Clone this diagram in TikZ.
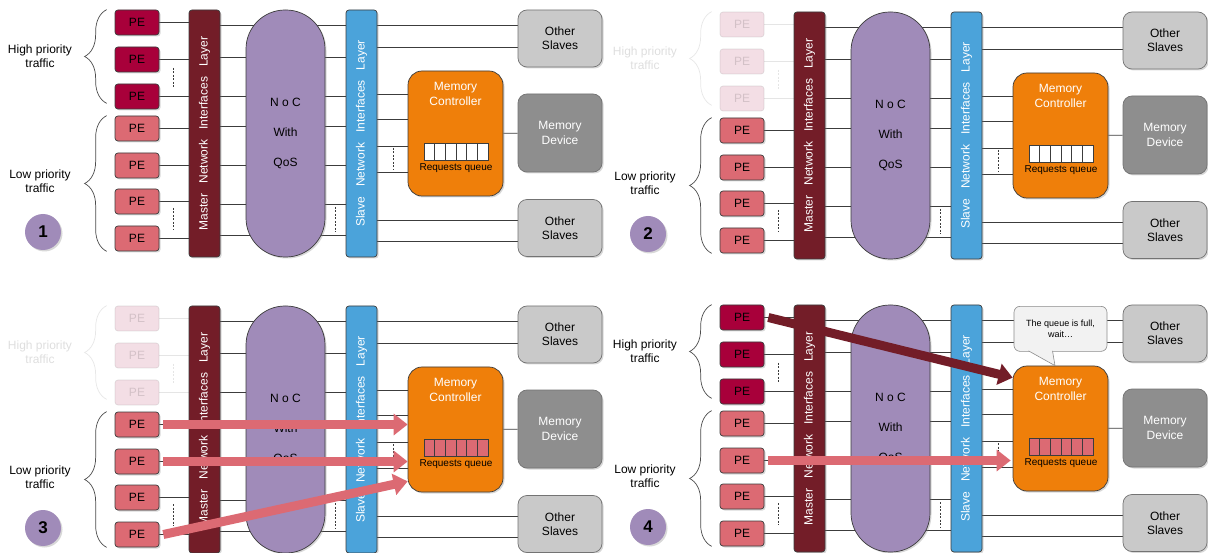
\documentclass[tikz,border=0pt]{standalone}
\usepackage{fontspec}
\setmainfont{Liberation Sans}
\usepackage{xcolor}
\usepackage{tikz}
\usetikzlibrary{arrows.meta,calc,decorations.pathreplacing,positioning,shadows,backgrounds}
\definecolor{muted}{HTML}{3C3C3C}
\definecolor{hipe}{HTML}{A8003A}
\definecolor{lope}{HTML}{DC6A73}
\definecolor{mnifill}{HTML}{731D28}
\definecolor{nocfill}{HTML}{A08BB9}
\definecolor{snifill}{HTML}{4BA3DA}
\definecolor{mcfill}{HTML}{EF7F0A}
\definecolor{osfill}{HTML}{C9C9C9}
\definecolor{mdfill}{HTML}{8E8E8E}
\definecolor{msgfill}{HTML}{F2F2F2}

% one snapshot of the system: name, x, y, extra options, step number
\newcommand\drawpanel[5]{%
\begin{scope}[shift={(#2,#3)},#4]
  % traffic groups
  \node[lbl,hifade] (#1hilbl) at (40,56) {High priority\\traffic};
  \node[lbl] (#1lolbl) at (40,181) {Low priority\\traffic};
  \node[numdot] (#1num) at (43,232) {#5};
  % processing elements
  \foreach \i/\y in {1/22.5,2/59.5,3/96.5}
    \node[pe,hi,fill=hipe] (#1pe\i) at (137,\y) {PE};
  \foreach \i/\y in {4/128.5,5/165.5,6/201.5,7/238.5}
    \node[pe,boxshadow,fill=lope] (#1pe\i) at (137,\y) {PE};
  \draw[brace,hifade] ([xshift=-8pt,yshift=6pt]#1pe3.south west) -- ([xshift=-8pt]#1pe1.north west);
  \draw[brace] ([xshift=-8pt]#1pe7.south west) -- ([xshift=-8pt]#1pe4.north west);
  \draw[dots,hifade] (173,68) -- (173,88);
  \draw[dots] (173,208) -- (173,230);
  % network interfaces and NoC
  \node[bar,fill=mnifill] (#1mni) at (204.5,133.5) {};
  \node[bartxt] at (#1mni) {Master\hspace{10pt}Network\hspace{10pt}Interfaces\hspace{10pt}Layer};
  \node[noc] (#1noc) at (285.5,133.5) {N o C\\[15.6pt]With\\[15.6pt]QoS};
  \node[bar,fill=snifill] (#1sni) at (361.5,133.5) {};
  \node[bartxt] at (#1sni) {Slave\hspace{10pt}Network\hspace{10pt}Interfaces\hspace{10pt}Layer};
  \draw[dots] (335,207) -- (335,232);
  % slaves
  \node[slv] (#1os1) at (560,38.5) {Other\\Slaves};
  \node[slv,fill=mdfill,text=white,minimum height=78pt] (#1md) at (560,133) {Memory\\Device};
  \node[slv] (#1os2) at (560,228) {Other\\Slaves};
  \node[mcbox] (#1mc) at (455.5,133.5) {};
  \node[text=white,below=10.5pt of #1mc.north] (#1mclbl) {Memory\\Controller};
  \foreach \k in {0,...,5}
    \node[cell] (#1q\k) at ({429.33+10.67*\k},151.5) {};
  \node[font=\fontsize{10}{12}\selectfont] (#1qlbl) at (456,168) {Requests queue};
  \draw[dots] (393,148) -- (393,170);
  % wires
  \begin{pgfonlayer}{background}
    \foreach \i in {1,2,3}
      \draw[wire,hifade] (#1pe\i.east) -- (#1pe\i.east -| #1mni.west);
    \foreach \i in {4,...,7}
      \draw[wire] (#1pe\i.east) -- (#1pe\i.east -| #1mni.west);
    \foreach \y in {25,57,96,126,165,204,235}
      \draw[wire] (#1mni.east |- 0,\y) -- (#1sni.west |- 0,\y);
    \foreach \y in {25,47}
      \draw[wire] (#1sni.east |- 0,\y) -- (#1os1.west |- 0,\y);
    \foreach \y in {94,119,146,172}
      \draw[wire] (#1sni.east |- 0,\y) -- (#1mc.west |- 0,\y);
    \foreach \y in {220,241}
      \draw[wire] (#1sni.east |- 0,\y) -- (#1os2.west |- 0,\y);
    \draw[wire] (#1mc) -- (#1md);
  \end{pgfonlayer}
\end{scope}}

\begin{document}
\begin{tikzpicture}[x=1pt,y=-1pt,
  every node/.style={font=\fontsize{12}{14.4}\selectfont,align=center,inner sep=1pt},
  boxshadow/.style={drop shadow={opacity=0.3,shadow xshift=1.5pt,shadow yshift=-1.5pt}},
  hi/.style={boxshadow}, hifade/.style={},
  faded/.style={hi/.style={opacity=0.13},hifade/.style={opacity=0.13}},
  cellbox/.style={draw=muted,line width=0.6pt,minimum width=10.67pt,minimum height=17pt,inner sep=0pt},
  cell/.style={cellbox,fill=white},
  full/.style={cell/.style={cellbox,fill=lope}},
  lbl/.style={text=black},
  numdot/.style={circle,fill=nocfill,minimum size=36pt,font=\fontsize{17}{20}\selectfont\bfseries,boxshadow},
  pe/.style={draw=muted,line width=0.7pt,rounded corners=3pt,minimum width=44pt,minimum height=25pt},
  bar/.style={draw=muted,line width=0.7pt,rounded corners=3pt,minimum width=31pt,minimum height=247pt,boxshadow},
  bartxt/.style={rotate=90,text=white},
  noc/.style={draw=muted,fill=nocfill,line width=0.7pt,rounded corners=39pt,minimum width=79pt,minimum height=247pt,boxshadow},
  slv/.style={draw=black!55,fill=osfill,line width=0.7pt,rounded corners=9pt,minimum width=84pt,minimum height=57pt,boxshadow},
  mcbox/.style={draw=muted,fill=mcfill,line width=0.7pt,rounded corners=14pt,minimum width=95pt,minimum height=125pt,boxshadow},
  msg/.style={draw=black!45,fill=msgfill,line width=0.6pt,rounded corners=6pt,minimum width=93pt,minimum height=45pt,font=\fontsize{9}{11}\selectfont},
  msgptr/.style={draw=black!45,fill=msgfill,line width=0.6pt},
  wire/.style={draw=muted,line width=0.7pt},
  dots/.style={draw=muted,line width=0.7pt,dash pattern=on 2pt off 1.5pt},
  brace/.style={draw=black!70,line width=0.7pt,decorate,decoration={brace,amplitude=22pt}},
  flow/.style={line width=9pt,-{Triangle[length=14pt,width=21pt]}}]
  \useasboundingbox (0,0) rectangle (1208,553);
  \begin{pgfonlayer}{background}
    \fill[white] (0,0) rectangle (1208,553);
  \end{pgfonlayer}
  \drawpanel{p1}{0}{0}{}{1}
  \drawpanel{p2}{605}{2}{faded}{2}
  \drawpanel{p3}{0}{296}{faded,full}{3}
  \drawpanel{p4}{605}{295}{full}{4}
  % step 3: low priority requests fill the queue
  \draw[flow,draw=lope] ([xshift=4pt]p3pe4.east) -- (p3mc.west |- p3pe4);
  \draw[flow,draw=lope] ([xshift=4pt]p3pe5.east) -- (p3mc.west |- p3pe5);
  \draw[flow,draw=lope] ([xshift=4pt]p3pe7.east) -- ([yshift=11pt]p3mc.south west);
  % step 4: the high priority request has to wait
  \draw[flow,draw=mnifill] ([xshift=4pt]p4pe1.east) -- ([yshift=-12pt]p4mc.north west);
  \draw[flow,draw=lope] ([xshift=4pt]p4pe5.east) -- ([xshift=-2pt]p4mc.west |- p4pe5);
  \node[msg,above=14pt of p4mc] (p4msg) {The queue is full,\\wait\ldots};
  \filldraw[msgptr] ([xshift=-32pt,yshift=0.8pt]p4msg.south) -- ([xshift=-5.5pt]p4mc.north) -- ([xshift=-8pt,yshift=0.8pt]p4msg.south);
\end{tikzpicture}
\end{document}
